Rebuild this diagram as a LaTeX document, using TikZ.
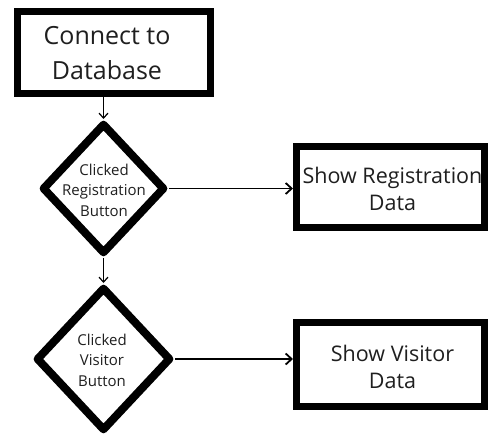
\documentclass[tikz,border=0pt]{standalone}
\usepackage{fontspec}
\setmainfont{Open Sans}
\usetikzlibrary{shapes.geometric,arrows.meta}
\tikzset{
  procbox/.style={draw=black, line width=7pt, rectangle, inner sep=0pt, fill=white},
  dia/.style={draw=black, line width=8pt, diamond, inner sep=0pt, line join=round, fill=white},
  txt/.style={align=center, inner sep=0pt, text=black!88},
  varrow/.style={line width=1.2pt, -{Straight Barb[length=5pt,width=9pt,line width=1.2pt]}},
  harrow/.style={line width=1.8pt, -{Straight Barb[length=6pt,width=11pt,line width=1.8pt]}}
}
\begin{document}
\begin{tikzpicture}[x=1pt,y=-1pt]
\useasboundingbox (0,0) rectangle (489,436);
% boxes
\node[procbox, minimum width=193pt, minimum height=82pt] (b1) at (114,52.5) {};
\node[txt, font=\fontsize{25}{35}\selectfont] (b1t) at (107,53) {Connect to\\Database};
\node[procbox, minimum width=188pt, minimum height=81pt] (b2) at (390.5,187) {};
\node[txt, font=\fontsize{21.5}{26.6}\selectfont] (b2t) at (392.5,189) {Show Registration\\Data};
\node[procbox, minimum width=188pt, minimum height=84pt] (b3) at (390.5,364.5) {};
\node[txt, font=\fontsize{21.5}{26.6}\selectfont] (b3t) at (392.5,367) {Show Visitor\\Data};
% diamonds
\node[dia, minimum width=123pt, minimum height=131pt] (d1) at (103.5,188.5) {};
\node[txt, font=\fontsize{15}{20.5}\selectfont] (d1t) at (104,190) {Clicked\\Registration\\Button};
\node[dia, minimum width=135pt, minimum height=144pt] (d2) at (103.5,359) {};
\node[txt, font=\fontsize{15}{20.5}\selectfont] (d2t) at (102,360) {Clicked\\Visitor\\Button};
% connectors
\draw[varrow] (b1.south -| d1.north) -- (d1.north);
\draw[varrow] (d1.south) -- (d2.north);
\draw[harrow] (d1.east) -- (d1.east -| b2.west);
\draw[harrow] (d2.east) -- (d2.east -| b3.west);
\end{tikzpicture}
\end{document}
